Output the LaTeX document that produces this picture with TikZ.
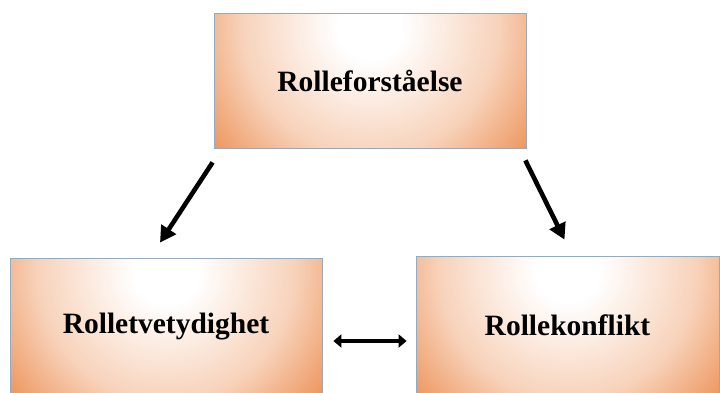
\documentclass[tikz,border=0pt]{standalone}
\usepackage{fontspec}
\setmainfont{Liberation Serif}
\usetikzlibrary{calc,arrows.meta}
\definecolor{boxorange}{RGB}{234,128,60}
\definecolor{boxedge}{RGB}{150,170,190}
\pgfdeclareradialshading{boxglow}{\pgfpoint{0bp}{0bp}}{%
  color(0bp)=(white); color(4bp)=(white); color(16bp)=(boxorange!35!white); color(28bp)=(boxorange); color(50bp)=(boxorange)}
\tikzset{
  rolebox/.style={draw=boxedge, line width=0.8pt, rectangle, inner sep=0pt,
    font=\fontsize{29.5}{30}\selectfont\bfseries,
    path picture={\shade[shading=boxglow]
      ($(path picture bounding box.north)+(0,14)$) circle [radius=200pt];}},
  flow/.style={line width=4.6pt, -{Triangle[length=16pt,width=17pt]}},
  both/.style={line width=4.4pt, {Triangle[length=8pt,width=13pt]}-{Triangle[length=8pt,width=13pt]}}
}
\begin{document}
\begin{tikzpicture}[x=1pt,y=-1pt]
  \useasboundingbox (0,0) rectangle (720,392);
  \node[rolebox, minimum width=312pt, minimum height=135pt] (top) at (370,80.5) {Rolleforståelse};
  \node[rolebox, minimum width=312pt, minimum height=138pt] (lft) at (166,327) {Rolletvetydighet};
  \node[rolebox, minimum width=303pt, minimum height=138pt] (rgt) at (567.5,325) {Rollekonflikt};
  \draw[flow] ($(top.south west)+(-1,14)$) -- ($(lft.north)+(-6,-15)$);
  \draw[flow] ($(top.south east)+(-1,12)$) -- ($(rgt.north)+(-3,-16)$);
  \draw[both] ($(lft.east)+(11,14)$) -- ($(rgt.west)+(-9,16)$);
\end{tikzpicture}
\end{document}
